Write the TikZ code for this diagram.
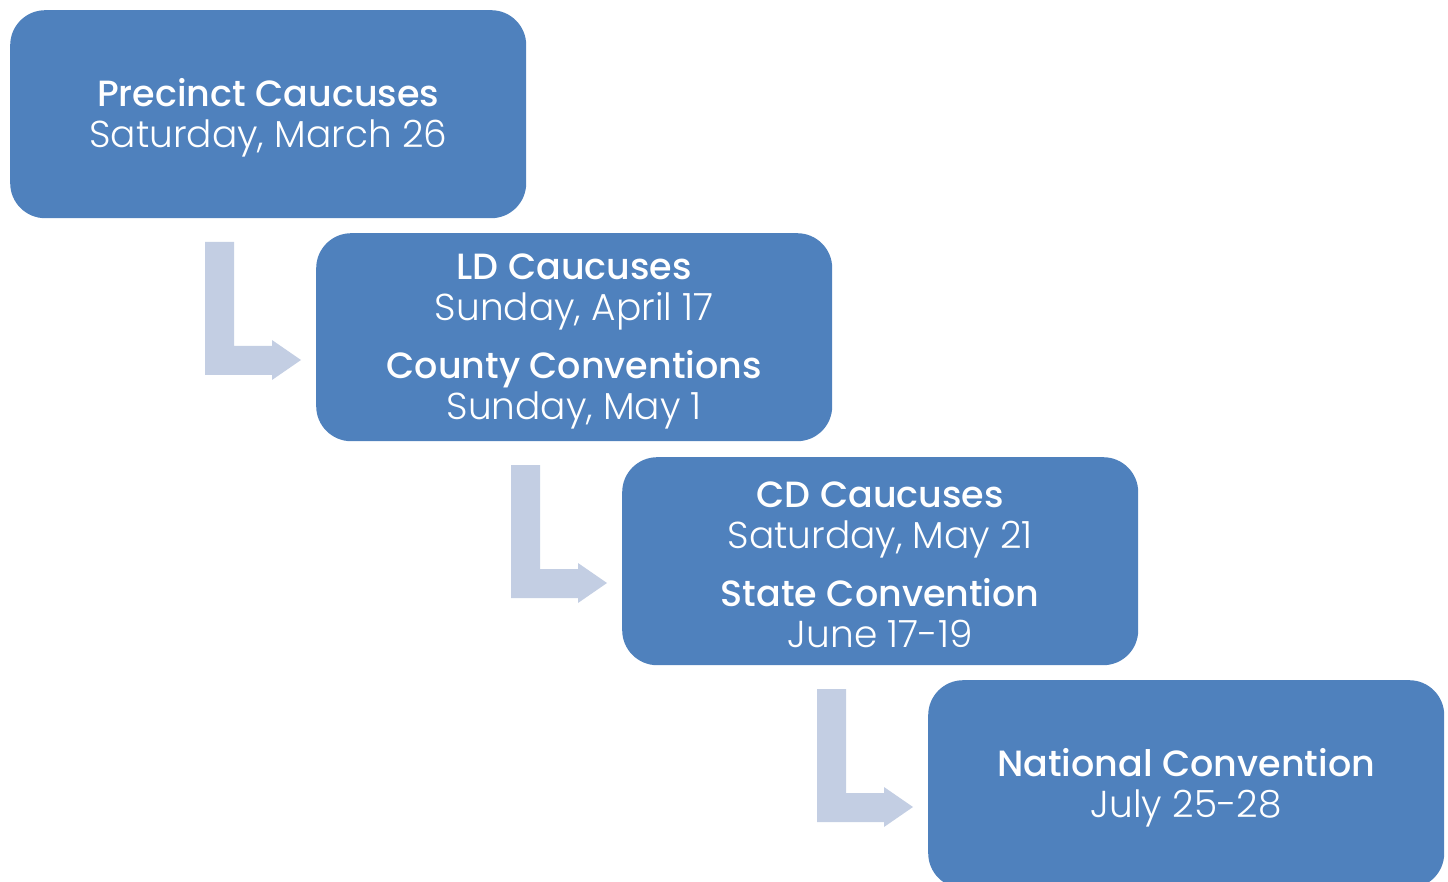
\documentclass[tikz,border=0pt]{standalone}
\usepackage{fontspec}
\setmainfont{Poppins}[UprightFont=* Light, BoldFont=* Medium]
\definecolor{boxblue}{HTML}{4F81BD}
\definecolor{arrowblue}{HTML}{C3CEE3}
\newcommand\stagetitle[1]{{\fontsize{36.5}{41}\selectfont\bfseries #1}}
\newcommand\stagedate[1]{{\fontsize{37.5}{41}\selectfont #1}}
\begin{document}
\begin{tikzpicture}[x=1pt,y=-1pt,
  stagebox/.style={fill=boxblue, draw=none, rounded corners=35pt,
    minimum width=516pt, minimum height=208pt, inner sep=0pt,
    anchor=north west},
  stagetext/.style={text=white, align=center, inner sep=0pt,
    font=\fontsize{36}{41}\selectfont},
  bentarrow/.style={fill=arrowblue, draw=none}]
\useasboundingbox (0,0) rectangle (1448,882);
\begin{scope}
\clip (0,0) rectangle (1448,882);
\node[stagebox] (b1) at (10,10) {};
\node[stagebox] (b2) at (316,233) {};
\node[stagebox] (b3) at (622,457) {};
\node[stagebox] (b4) at (928,680) {};
\node[stagetext] (t1) at ([yshift=-4pt]b1.center) {\stagetitle{Precinct Caucuses}\\\stagedate{Saturday, March 26}};
\node[stagetext] (t2) at ([yshift=-4pt]b2.center) {\stagetitle{LD Caucuses}\\\stagedate{Sunday, April 17}\\[17pt]\stagetitle{County Conventions}\\\stagedate{Sunday, May 1}};
\node[stagetext] (t3) at ([yshift=-4pt]b3.center) {\stagetitle{CD Caucuses}\\\stagedate{Saturday, May 21}\\[17pt]\stagetitle{State Convention}\\\stagedate{June 17-19}};
\node[stagetext] (t4) at ([yshift=-4pt]b4.center) {\stagetitle{National Convention}\\\stagedate{July 25-28}};
\foreach \b in {b1,b2,b3}{
  \begin{scope}[shift={(\b.north west)}]
    \fill[bentarrow] (195,232) -- (224,232) -- (224,336) -- (262,336) -- (262,330)
      -- (291,350) -- (262,370) -- (262,365) -- (195,365) -- cycle;
  \end{scope}
}
\end{scope}
\end{tikzpicture}
\end{document}
